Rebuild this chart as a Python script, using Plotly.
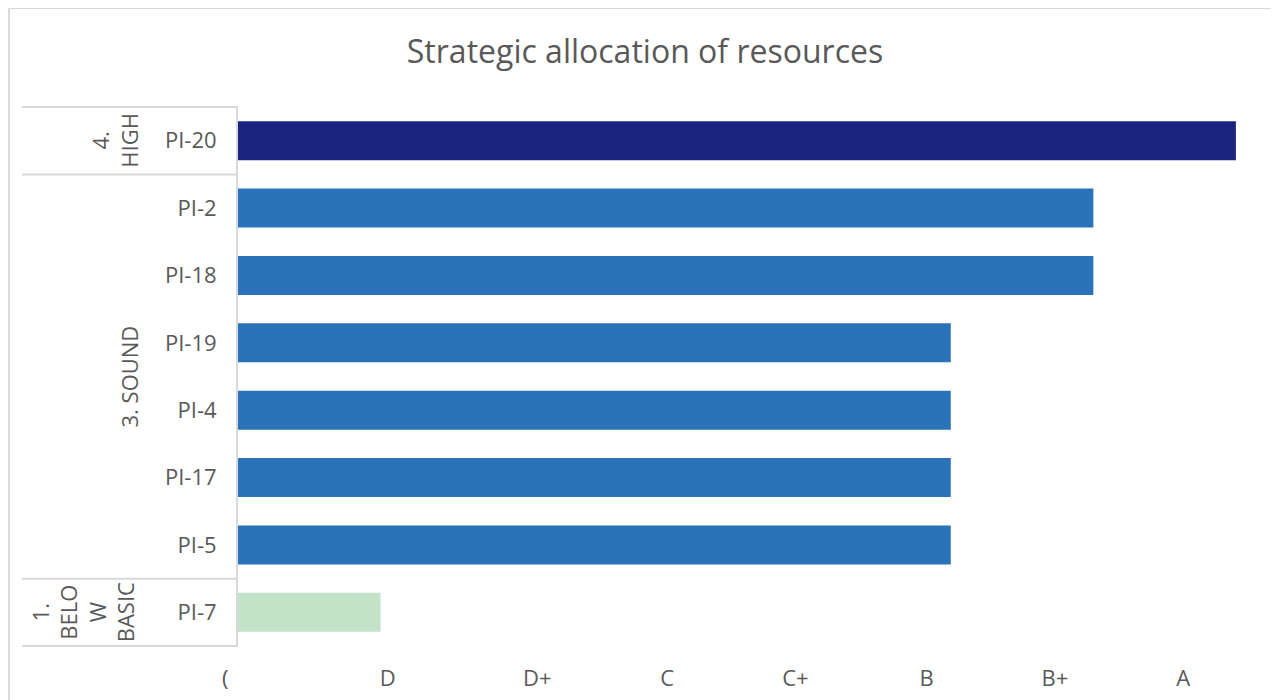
import plotly.graph_objects as go

# ---------------- data ----------------
indicators = ["PI-20", "PI-2", "PI-18", "PI-19", "PI-4", "PI-17", "PI-5", "PI-7"]
scores = [7, 6, 6, 5, 5, 5, 5, 1]
groups = ["4. HIGH", "3. SOUND", "3. SOUND", "3. SOUND", "3. SOUND", "3. SOUND", "3. SOUND", "1. BELOW BASIC"]
group_names = ["4. HIGH", "3. SOUND", "1. BELOW BASIC"]
group_display = ["4.<br>HIGH", "3. SOUND", "1.<br>BELO<br>W<br>BASIC"]
group_colors = {"4. HIGH": "#1A237E", "3. SOUND": "#2A73B8", "1. BELOW BASIC": "#C3E3C9"}
grade_labels = ["D", "D+", "C", "C+", "B", "B+", "A"]
grade_positions = [1.05, 2.10, 3.01, 3.91, 4.83, 5.73, 6.63]

# ---------------- layout geometry (page pixels) ----------------
OFF = 8                      # default body margin of the html page
PAGE_W, PAGE_H = 1279, 700
W, H = PAGE_W - OFF, PAGE_H - OFF
PL, PR, PT, PB = 238, 1242.6, 106, 647   # plot area in page pixels
L, T = PL - OFF, PT - OFF
R = W - (PR - OFF)
B = H - (PB - OFF)
pw = PR - PL
ph = PB - PT


def px_x(px):
    return (px - PL) / pw


def px_y(py):
    return (PB - py) / ph


grey = "#595959"
line_grey = "#D9D9D9"
font_family = "Open Sans, Calibri, Arial, sans-serif"

fig = go.Figure()
fig.add_trace(go.Bar(
    x=scores,
    y=indicators,
    orientation="h",
    marker=dict(color=[group_colors[g] for g in groups], line=dict(width=0)),
    hoverinfo="x+y",
))

shapes = []
# outer chart border
shapes.append(dict(type="rect", xref="paper", yref="paper",
                   x0=px_x(9), x1=px_x(1278), y0=px_y(730), y1=px_y(8),
                   line=dict(color=line_grey, width=2), fillcolor="rgba(0,0,0,0)", layer="below"))

# group boundaries (category index boundaries)
boundaries = [-0.5]
idx = 0
for g in group_names:
    idx += groups.count(g)
    boundaries.append(idx - 0.5)
for b in boundaries:
    shapes.append(dict(type="line", xref="paper", yref="y",
                       x0=px_x(22), x1=0, y0=b, y1=b,
                       line=dict(color=line_grey, width=2)))

group_x_px = {"4. HIGH": 115, "3. SOUND": 128, "1. BELOW BASIC": 83}
annotations = []
start = 0
for g, disp in zip(group_names, group_display):
    n = groups.count(g)
    center = start + (n - 1) / 2
    start += n
    annotations.append(dict(
        text=disp, xref="paper", yref="y", x=0, y=center,
        xanchor="center", yanchor="middle",
        xshift=group_x_px[g] - PL,
        textangle=-90, showarrow=False,
        font=dict(family=font_family, size=22, color=grey),
    ))

# clipped zero label at the axis start
annotations.append(dict(text="(", xref="paper", yref="paper", x=0, y=0,
                        xshift=225 - PL, yshift=-(677 - PB), xanchor="center", yanchor="middle",
                        showarrow=False, font=dict(family=font_family, size=22, color=grey)))

fig.update_layout(
    width=W, height=H,
    margin=dict(l=L, r=R, t=T, b=B, pad=0, autoexpand=False),
    paper_bgcolor="white", plot_bgcolor="white",
    title=dict(text="Strategic allocation of resources", x=(645 - OFF) / W, xanchor="center",
               y=1 - (52 - OFF) / H, yanchor="middle", automargin=False,
               font=dict(family=font_family, size=32, color=grey)),
    bargap=0.42,
    showlegend=False,
    xaxis=dict(range=[0, (PR - PL) / 142.5], showgrid=False, zeroline=False, showline=False,
               tickvals=grade_positions, ticktext=grade_labels, ticks="",
               ticklabelstandoff=16, automargin=False,
               tickfont=dict(family=font_family, size=22, color=grey)),
    yaxis=dict(categoryorder="array", categoryarray=indicators, autorange="reversed",
               showgrid=False, zeroline=False, showline=True, linecolor=line_grey, linewidth=2,
               ticks="", ticklabelstandoff=15, automargin=False,
               tickfont=dict(family=font_family, size=22, color=grey)),
    shapes=shapes,
    annotations=annotations,
)

fig.write_html("out.html")
